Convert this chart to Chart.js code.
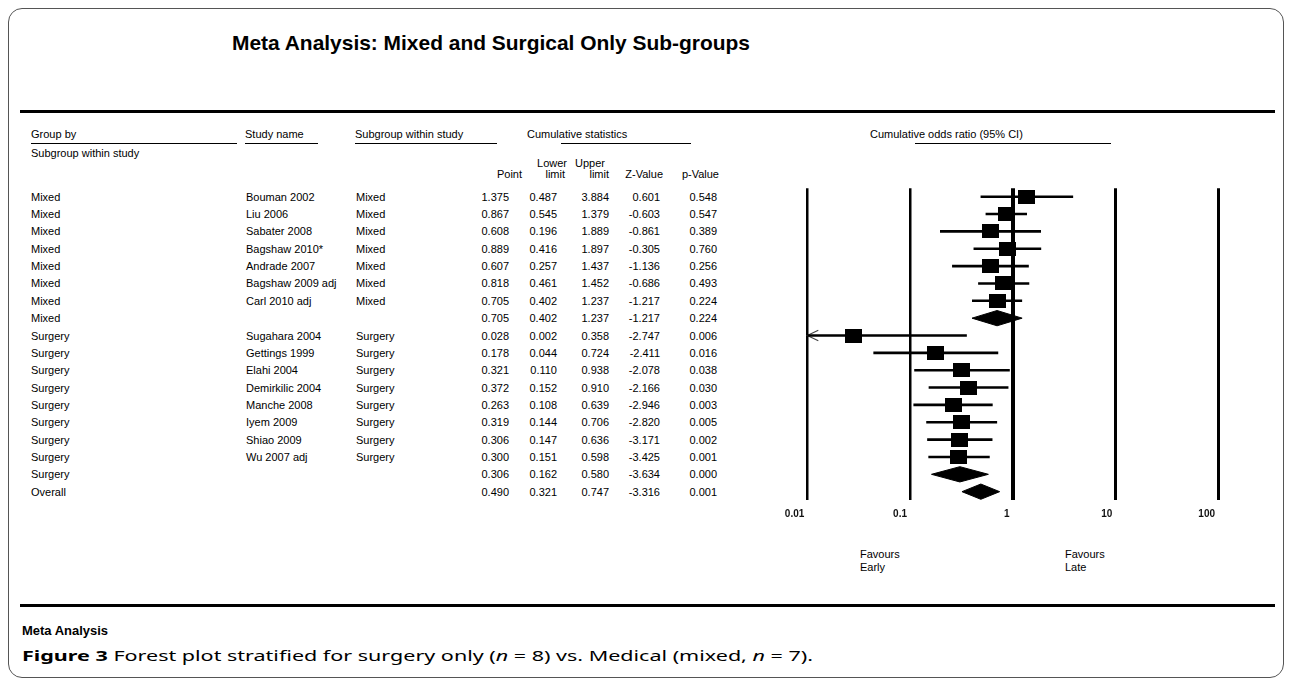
<!DOCTYPE html>
<html>
<head>
<meta charset="utf-8">
<script src="https://cdn.jsdelivr.net/npm/chart.js@4.4.1/dist/chart.umd.min.js"></script>
<style>
html,body{margin:0;padding:0;background:#fff;}
#root{position:relative;width:1292px;height:679px;overflow:hidden;font-family:"Liberation Sans",Arial,sans-serif;color:#000;background:#fff;}
#frame{position:absolute;left:8px;top:8px;width:1276px;height:670px;box-sizing:border-box;border:1.5px solid #555;border-radius:14px;}
.t{position:absolute;white-space:nowrap;font-size:11px;line-height:14px;}
.hl{position:absolute;background:#000;}
#forest{position:absolute;left:767px;top:180px;}
</style>
</head>
<body>
<div id="root">
  <div id="frame"></div>
  <canvas id="forest" width="490" height="350"></canvas>
</div>
<script>
// ---------- data ----------
const groups = ["Mixed","Mixed","Mixed","Mixed","Mixed","Mixed","Mixed","Mixed",
  "Surgery","Surgery","Surgery","Surgery","Surgery","Surgery","Surgery","Surgery","Surgery","Overall"];
const studies = ["Bouman 2002","Liu 2006","Sabater 2008","Bagshaw 2010*","Andrade 2007","Bagshaw 2009 adj","Carl 2010 adj","",
  "Sugahara 2004","Gettings 1999","Elahi 2004","Demirkilic 2004","Manche 2008","Iyem 2009","Shiao 2009","Wu 2007 adj","",""];
const subgroups = ["Mixed","Mixed","Mixed","Mixed","Mixed","Mixed","Mixed","",
  "Surgery","Surgery","Surgery","Surgery","Surgery","Surgery","Surgery","Surgery","",""];
const pointEst = [1.375,0.867,0.608,0.889,0.607,0.818,0.705,0.705,0.028,0.178,0.321,0.372,0.263,0.319,0.306,0.300,0.306,0.490];
const lowerCI  = [0.487,0.545,0.196,0.416,0.257,0.461,0.402,0.402,0.002,0.044,0.110,0.152,0.108,0.144,0.147,0.151,0.162,0.321];
const upperCI  = [3.884,1.379,1.889,1.897,1.437,1.452,1.237,1.237,0.358,0.724,0.938,0.910,0.639,0.706,0.636,0.598,0.580,0.747];
const zValues  = [0.601,-0.603,-0.861,-0.305,-1.136,-0.686,-1.217,-1.217,-2.747,-2.411,-2.078,-2.166,-2.946,-2.820,-3.171,-3.425,-3.634,-3.316];
const pValues  = [0.548,0.547,0.389,0.760,0.256,0.493,0.224,0.224,0.006,0.016,0.038,0.030,0.003,0.005,0.002,0.001,0.000,0.001];
const summaryRow = [false,false,false,false,false,false,false,true,
  false,false,false,false,false,false,false,false,true,true];
const tickValues = [0.01,0.1,1,10,100];
const tickLabels = ["0.01","0.1","1","10","100"];

// ---------- layout helpers ----------
const root = document.getElementById('root');
const ROW0 = 196.7, ROWH = 17.35;
function txt(html, x, yc, opts = {}) {
  const d = document.createElement('div');
  d.className = 't';
  d.innerHTML = html;
  const fs = opts.size || 11;
  const lh = Math.round(fs * 1.3);
  d.style.fontSize = fs + 'px';
  d.style.lineHeight = lh + 'px';
  d.style.top = (yc - lh / 2) + 'px';
  if (opts.weight) d.style.fontWeight = opts.weight;
  if (opts.family) d.style.fontFamily = opts.family;
  if (opts.align === 'right') { d.style.right = (1292 - x) + 'px'; }
  else { d.style.left = x + 'px'; }
  root.appendChild(d);
  if (opts.fit) {
    const w = d.getBoundingClientRect().width;
    d.style.transformOrigin = 'left center';
    d.style.transform = 'scaleX(' + (opts.fit / w) + ')';
  }
  return d;
}
function hline(x1, x2, y, h) {
  const d = document.createElement('div');
  d.className = 'hl';
  d.style.left = x1 + 'px'; d.style.width = (x2 - x1) + 'px';
  d.style.top = (y - h / 2) + 'px'; d.style.height = h + 'px';
  root.appendChild(d);
}

// ---------- title & rules ----------
txt('Meta Analysis: Mixed and Surgical Only Sub-groups', 232, 42,
  {size: 21, weight: 'bold', family: '"Liberation Sans Narrow","Liberation Sans",Arial,sans-serif', fit: 518});
hline(20, 1275, 111.5, 3);
hline(20, 1275, 605.5, 3);
txt('Meta Analysis', 22, 630, {size: 13, weight: 'bold', family: '"Liberation Sans Narrow","Liberation Sans",Arial,sans-serif', fit: 86});
txt('<b>Figure 3</b> Forest plot stratified for surgery only (<i>n</i> = 8) vs. Medical (mixed, <i>n</i> = 7).',
  22, 655, {size: 15, family: '"Noto Sans","Open Sans",Arial,sans-serif', fit: 791});

// ---------- table headers ----------
txt('Group by', 31, 134); hline(31, 237, 143.5, 1.2);
txt('Subgroup within study', 31, 153);
txt('Study name', 245, 134); hline(245, 318, 143.5, 1.2);
txt('Subgroup within study', 355, 134); hline(355, 497, 143.5, 1.2);
txt('Cumulative statistics', 527, 134); hline(561, 691, 143.5, 1.2);
txt('Cumulative odds ratio (95% CI)', 870, 134); hline(915, 1111, 143.5, 1.2);
txt('Point', 522, 174, {align: 'right'});
txt('Lower', 567, 163, {align: 'right'});
txt('limit', 565, 174, {align: 'right'});
txt('Upper', 605, 163, {align: 'right'});
txt('limit', 609, 174, {align: 'right'});
txt('Z-Value', 663, 174, {align: 'right'});
txt('p-Value', 719, 174, {align: 'right'});

// ---------- table rows ----------
const numCols = [509, 557, 609, 660, 717];
groups.forEach((g, i) => {
  const y = ROW0 + i * ROWH;
  txt(g, 31, y);
  if (studies[i]) txt(studies[i], 246, y);
  if (subgroups[i]) txt(subgroups[i], 356, y);
  [pointEst[i], lowerCI[i], upperCI[i], zValues[i], pValues[i]].forEach((v, k) => {
    txt(v.toFixed(3), numCols[k], y, {align: 'right'});
  });
});

// Favours labels
txt('Favours', 860, 554); txt('Early', 860, 567);
txt('Favours', 1065, 554); txt('Late', 1065, 567);

// ---------- forest plot (Chart.js) ----------
Chart.defaults.font.family = '"Liberation Sans", Arial, sans-serif';
const nRows = groups.length;
const DIAMOND_H = 0.44;

const ciData = [];
const squareData = [];
const arrowSets = [];
const diamondSets = [];
for (let i = 0; i < nRows; i++) {
  if (summaryRow[i]) {
    diamondSets.push({
      type: 'line',
      data: [
        {x: lowerCI[i], y: i}, {x: pointEst[i], y: i - DIAMOND_H},
        {x: upperCI[i], y: i}, {x: pointEst[i], y: i + DIAMOND_H},
        {x: lowerCI[i], y: i}
      ],
      borderColor: '#000', backgroundColor: '#000', borderWidth: 1,
      fill: 'shape', pointRadius: 0, tension: 0
    });
  } else {
    ciData.push({x: lowerCI[i], y: i}, {x: upperCI[i], y: i}, {x: upperCI[i], y: null});
    squareData.push({x: pointEst[i], y: i});
    if (lowerCI[i] < tickValues[0]) {
      const xm = tickValues[0];
      arrowSets.push({
        type: 'line',
        data: [{x: xm * 1.28, y: i - 0.3}, {x: xm, y: i}, {x: xm * 1.28, y: i + 0.3}],
        borderColor: '#444', borderWidth: 1.1, pointRadius: 0, tension: 0, clip: false, fill: false
      });
    }
  }
}

// rectangular marker used as point style
const sq = document.createElement('canvas');
sq.width = 17; sq.height = 14;
const sctx = sq.getContext('2d');
sctx.fillStyle = '#000';
sctx.fillRect(0, 0, 17, 14);

new Chart(document.getElementById('forest'), {
  type: 'scatter',
  data: {
    datasets: [
      {type: 'line', data: ciData, borderColor: '#000', borderWidth: 2.6, pointRadius: 0,
       spanGaps: false, tension: 0, fill: false},
      ...arrowSets,
      {type: 'scatter', data: squareData, pointStyle: sq, pointRadius: 8, backgroundColor: '#000', borderWidth: 0},
      ...diamondSets
    ]
  },
  options: {
    responsive: false,
    animation: false,
    events: [],
    layout: {padding: {left: 40.3, right: 39, top: 8.3, bottom: 0}},
    plugins: {legend: {display: false}, tooltip: {enabled: false}},
    scales: {
      x: {
        type: 'logarithmic',
        min: tickValues[0],
        max: tickValues[tickValues.length - 1],
        afterBuildTicks: (scale) => { scale.ticks = tickValues.map(v => ({value: v})); },
        afterFit: (scale) => { scale.height = 30; },
        border: {display: false},
        grid: {
          color: '#000',
          drawTicks: false,
          lineWidth: (ctx) => (ctx.tick && ctx.tick.value === 1) ? 4 : (ctx.tick && ctx.tick.value >= 10 ? 3 : 2.5)
        },
        ticks: {
          autoSkip: false,
          maxRotation: 0,
          align: 'end',
          labelOffset: -3,
          padding: 8,
          color: '#111',
          font: {size: 10, weight: 'bold'},
          callback: (v, idx) => tickLabels[idx]
        }
      },
      y: {
        type: 'linear',
        display: false,
        reverse: true,
        min: -0.484,
        max: nRows - 1 + 0.48
      }
    }
  }
});
</script>
</body>
</html>
